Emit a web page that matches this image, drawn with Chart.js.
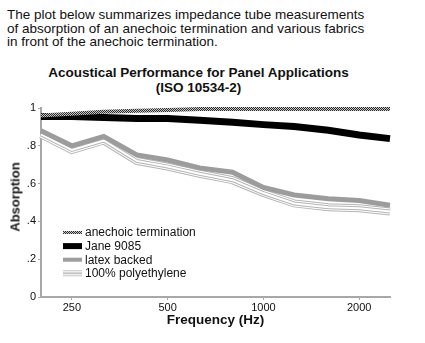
<!DOCTYPE html>
<html>
<head>
<meta charset="utf-8">
<title>Acoustical Performance for Panel Applications</title>
<script src="https://cdn.jsdelivr.net/npm/chart.js@4.4.1/dist/chart.umd.min.js"></script>
<style>
    body { margin: 0; background: #fff; font-family: 'Liberation Sans', Arial, Helvetica, sans-serif; color: #111; }
    #wrap { position: relative; width: 425px; height: 343px; overflow: hidden; }
    #intro { position: absolute; left: 7px; top: 8px; margin: 0; font-size: 13.5px; line-height: 13.5px; }
    #chart-title { position: absolute; left: 0; top: 65px; width: 397px; text-align: center; font-weight: bold; font-size: 13.5px; line-height: 15px; }
    #y-title { position: absolute; left: 15px; top: 197px; transform: translate(-50%, -50%) rotate(-90deg); font-weight: bold; font-size: 13px; white-space: nowrap; }
    #absorption-chart { position: absolute; left: 0; top: 0; }
</style>
</head>
<body>
<div id="wrap">
    <p id="intro">The plot below summarizes impedance tube measurements<br>of absorption of an anechoic termination and various fabrics<br>in front of the anechoic termination.</p>
    <div id="chart-title">Acoustical Performance for Panel Applications<br>(ISO 10534-2)</div>
    <canvas id="absorption-chart" width="425" height="343"></canvas>
    <div id="y-title">Absorption</div>
</div>
<script>
// third-octave band centres (Hz)
const frequencies = [200, 250, 315, 400, 500, 630, 800, 1000, 1250, 1600, 2000, 2500];
const freqTicks = [250, 500, 1000, 2000];
const absorptionTicks = [0, 0.2, 0.4, 0.6, 0.8, 1];
const absorptionTickLabels = ['0', '.2', '.4', '.6', '.8', '1'];

const seriesLabels = ['anechoic termination', 'Jane 9085', 'latex backed', '100% polyethylene'];
const anechoic = [0.96, 0.97, 0.98, 0.985, 0.99, 0.995, 0.995, 0.995, 0.995, 0.995, 0.995, 0.995];
const jane9085 = [0.955, 0.955, 0.95, 0.945, 0.945, 0.935, 0.925, 0.912, 0.902, 0.882, 0.857, 0.838];
const latexBacked = [0.88, 0.80, 0.85, 0.752, 0.725, 0.683, 0.66, 0.58, 0.54, 0.52, 0.51, 0.485];
const polyethylene = [0.86, 0.778, 0.828, 0.72, 0.69, 0.652, 0.618, 0.55, 0.495, 0.475, 0.47, 0.452];

const FONT = "'Liberation Sans', Arial, Helvetica, sans-serif";

function makeHatch() {
    const c = document.createElement('canvas');
    c.width = 4;
    c.height = 4;
    const g = c.getContext('2d');
    g.fillStyle = '#c8c8c8';
    g.fillRect(0, 0, 4, 4);
    g.fillStyle = '#2a2a2a';
    for (let i = 0; i < 4; i++) {
        g.fillRect(i, i, 1, 1);
        g.fillRect(i, (i + 2) % 4, 1, 1);
    }
    return g.createPattern(c, 'repeat');
}
const hatch = makeHatch();

const toPoints = arr => frequencies.map((f, i) => ({ x: f, y: arr[i] }));

// thin white strokes laid over the polyethylene line give it its striped look
const stripePlugin = {
    id: 'stripes',
    afterDatasetDraw(chart, args) {
        const ds = chart.data.datasets[args.index];
        if (!ds.striped) return;
        const pts = args.meta.data;
        const ctx = chart.ctx;
        ctx.save();
        ctx.lineJoin = 'miter';
        [[6, '#fff'], [4, '#b4b4b4'], [2, '#fff']].forEach(([w, col]) => {
            ctx.beginPath();
            pts.forEach((p, i) => (i ? ctx.lineTo(p.x, p.y) : ctx.moveTo(p.x, p.y)));
            ctx.lineWidth = w;
            ctx.strokeStyle = col;
            ctx.stroke();
        });
        ctx.restore();
    }
};

const legendPlugin = {
    id: 'insideLegend',
    afterDraw(chart) {
        const ctx = chart.ctx;
        const x = 63, y0 = 232.5, step = 13.6;
        ctx.save();
        ctx.font = '12px ' + FONT;
        ctx.textBaseline = 'middle';
        chart.data.datasets.forEach((ds, i) => {
            const y = y0 + i * step;
            const h = ds.legendHeight;
            if (ds.striped) {
                ctx.fillStyle = '#c4c4c4';
                ctx.fillRect(x, y - 3, 19, 6);
                ctx.fillStyle = '#fff';
                ctx.fillRect(x, y - 2, 19, 1);
                ctx.fillRect(x, y + 1, 19, 1);
            } else {
                ctx.fillStyle = ds.borderColor;
                ctx.fillRect(x, y - h / 2, 19, h);
            }
            ctx.fillStyle = '#111';
            ctx.fillText(ds.label, x + 22, y + 0.5);
        });
        ctx.restore();
    }
};

new Chart(document.getElementById('absorption-chart'), {
    type: 'line',
    data: {
        datasets: [
            { label: seriesLabels[0], data: toPoints(anechoic), borderColor: hatch, borderWidth: 4, legendHeight: 3 },
            { label: seriesLabels[1], data: toPoints(jane9085), borderColor: '#000', borderWidth: 7, legendHeight: 6 },
            { label: seriesLabels[2], data: toPoints(latexBacked), borderColor: '#9c9c9c', borderWidth: 5, legendHeight: 4 },
            { label: seriesLabels[3], data: toPoints(polyethylene), borderColor: '#b4b4b4', borderWidth: 8, striped: true }
        ].map(ds => Object.assign(ds, { pointRadius: 0, tension: 0, fill: false, clip: false, borderCapStyle: 'butt' }))
    },
    options: {
        responsive: false,
        animation: false,
        events: [],
        layout: { padding: { top: 108, right: 35, left: 0, bottom: 0 } },
        plugins: {
            legend: { display: false },
            tooltip: { enabled: false },
            title: { display: false }
        },
        scales: {
            x: {
                type: 'logarithmic',
                min: 200,
                max: 2500,
                afterFit: s => { s.height = 46; },
                afterBuildTicks: s => { s.ticks = freqTicks.map(v => ({ value: v })); },
                ticks: {
                    autoSkip: false,
                    maxRotation: 0,
                    padding: 1,
                    color: '#111',
                    font: { family: FONT, size: 11 },
                    callback: v => String(v)
                },
                grid: { drawOnChartArea: false, tickLength: 3, color: '#aaa', lineWidth: 1 },
                border: { color: '#a8a8a8', width: 2 },
                title: {
                    display: true,
                    text: 'Frequency (Hz)',
                    color: '#111',
                    font: { family: FONT, size: 13.5, weight: 'bold' },
                    padding: { top: 0, bottom: 15 }
                }
            },
            y: {
                min: 0,
                max: 1,
                afterFit: s => { s.width = 41; },
                afterBuildTicks: s => { s.ticks = absorptionTicks.map(v => ({ value: v })); },
                ticks: {
                    padding: 2,
                    color: '#111',
                    font: { family: FONT, size: 11 },
                    callback: v => absorptionTickLabels[absorptionTicks.findIndex(t => Math.abs(t - v) < 1e-6)]
                },
                grid: { drawOnChartArea: false, tickLength: 3, color: '#aaa', lineWidth: 1 },
                border: { color: '#a8a8a8', width: 2 }
            }
        }
    },
    plugins: [stripePlugin, legendPlugin]
});
</script>
</body>
</html>
